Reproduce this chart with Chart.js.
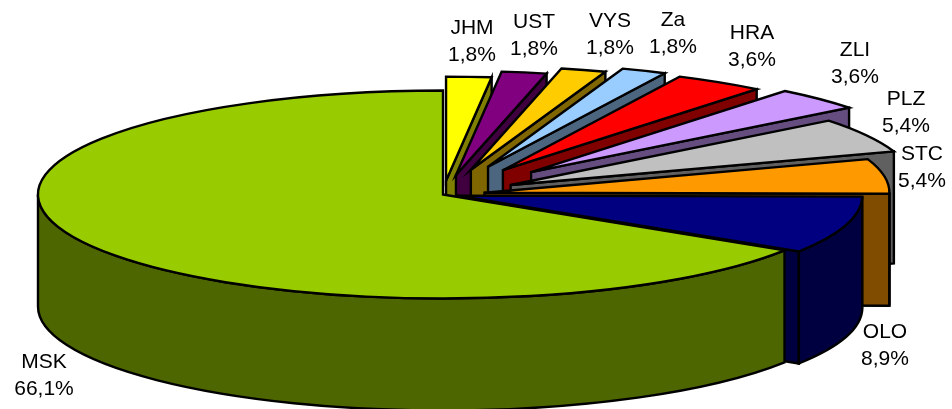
<!DOCTYPE html>
<html>
<head>
<meta charset="utf-8">
<style>
html,body{margin:0;padding:0;background:#fff;overflow:hidden}
#wrap{width:952px;height:409px}
</style>
<script src="https://cdn.jsdelivr.net/npm/chart.js@4"></script>
</head>
<body>
<div id="wrap"><canvas id="c" width="952" height="409"></canvas></div>
<script>
const categories = ["JHM","UST","VYS","Za","HRA","ZLI","PLZ","STC","OLO","MSK"];
const shares = [1.8,1.8,1.8,1.8,3.6,3.6,5.4,5.4,8.9,66.1];
const topColors = ["#FFFF00","#800080","#FFCC00","#99CCFF","#FF0000","#CC99FF","#C0C0C0","#FF9900","#000080","#99CC00"];
const sideColors = ["#808000","#400040","#806600","#4D6680","#800000","#664D80","#606060","#804D00","#000040","#4D6600"];
const explosions = [54,77,100,117,112,124,77,42,15,0];
const labelCentres = [[472,28],[534,22],[610,21],[673,20],[752,33],[855,50],[906,99],[922,154],[885,332],[44,362]];

const CX = 443, CY = 194.5, RX = 405, RY = 104, DEPTH = 112, LINE_GAP = 27;

const pie3d = {
  id: 'pie3d',
  beforeDatasetsDraw(chart) {
    const ctx = chart.ctx;
    const arcs = chart.getDatasetMeta(0).data;
    ctx.save();
    ctx.lineWidth = 2.4;
    ctx.strokeStyle = '#000';
    ctx.lineJoin = 'miter';
    arcs.forEach((arc, i) => {
      const midA = (arc.startAngle + arc.endAngle) / 2;
      const x0 = CX + explosions[i] * Math.cos(midA);
      const y0 = CY + explosions[i] * (RY / RX) * Math.sin(midA);
      const a0 = arc.startAngle, a1 = arc.endAngle;
      const px = a => x0 + RX * Math.cos(a);
      const py = a => y0 + RY * Math.sin(a);
      ctx.fillStyle = sideColors[i];
      // cut face on the clockwise edge, when it faces the viewer
      if (Math.sin(a1 + Math.PI / 2) > 0.01) {
        ctx.beginPath();
        ctx.moveTo(x0, y0);
        ctx.lineTo(px(a1), py(a1));
        ctx.lineTo(px(a1), py(a1) + DEPTH);
        ctx.lineTo(x0, y0 + DEPTH);
        ctx.closePath();
        ctx.fill();
        ctx.stroke();
      }
      // front-facing part of the rim
      const s = Math.max(a0, 0), e = Math.min(a1, Math.PI);
      if (e > s) {
        ctx.beginPath();
        ctx.ellipse(x0, y0, RX, RY, 0, s, e);
        ctx.ellipse(x0, y0 + DEPTH, RX, RY, 0, e, s, true);
        ctx.closePath();
        ctx.fill();
        ctx.stroke();
      }
      // top face drawn by the library's arc element
      const R = arc.outerRadius;
      ctx.save();
      ctx.translate(x0, y0);
      ctx.scale(RX / R, RY / R);
      ctx.translate(-arc.x, -arc.y);
      arc.draw(ctx);
      ctx.restore();
      ctx.beginPath();
      ctx.moveTo(x0, y0);
      ctx.ellipse(x0, y0, RX, RY, 0, a0, a1);
      ctx.closePath();
      ctx.stroke();
    });
    ctx.fillStyle = '#000';
    ctx.font = '21px "Liberation Sans", Arial, sans-serif';
    ctx.textAlign = 'center';
    ctx.textBaseline = 'middle';
    categories.forEach((name, i) => {
      const [lx, ly] = labelCentres[i];
      ctx.fillText(name, lx, ly);
      ctx.fillText(shares[i].toFixed(1).replace('.', ',') + '%', lx, ly + LINE_GAP);
    });
    ctx.restore();
    return false;
  }
};

new Chart(document.getElementById('c'), {
  type: 'pie',
  data: {
    labels: categories,
    datasets: [{ data: shares, backgroundColor: topColors, borderWidth: 0, offset: 0, hoverOffset: 0 }]
  },
  options: {
    responsive: false,
    animation: false,
    events: [],
    radius: 100,
    layout: { padding: 0 },
    plugins: { legend: { display: false }, tooltip: { enabled: false }, title: { display: false } }
  },
  plugins: [pie3d]
});
</script>
</body>
</html>
